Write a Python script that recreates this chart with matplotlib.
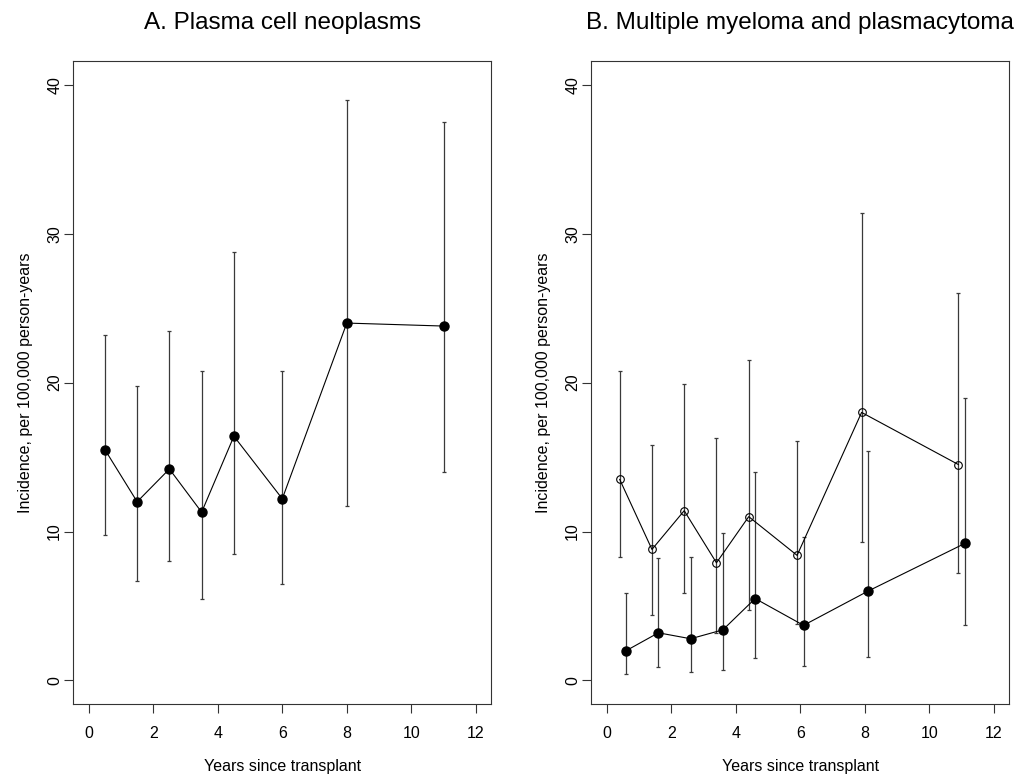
import numpy as np
import matplotlib
matplotlib.use("Agg")
import matplotlib.pyplot as plt

plt.rcParams['font.family'] = ['Liberation Sans', 'DejaVu Sans']

# panel A: plasma cell neoplasms
a_x = [0.5, 1.5, 2.5, 3.5, 4.5, 6, 8, 11]
a_y = [15.5, 12.0, 14.2, 11.3, 16.4, 12.2, 24.0, 23.8]
a_lo = [9.8, 6.7, 8.0, 5.5, 8.5, 6.5, 11.7, 14.0]
a_hi = [23.2, 19.8, 23.5, 20.8, 28.8, 20.8, 39.0, 37.5]

# panel B: open circles (offset left), filled circles (offset right)
b1_x = [0.4, 1.4, 2.4, 3.4, 4.4, 5.9, 7.9, 10.9]
b1_y = [13.5, 8.8, 11.4, 7.9, 11.0, 8.4, 18.0, 14.5]
b1_lo = [8.3, 4.4, 5.9, 3.2, 4.7, 3.8, 9.3, 7.2]
b1_hi = [20.8, 15.8, 19.9, 16.3, 21.5, 16.1, 31.4, 26.0]

b2_x = [0.6, 1.6, 2.6, 3.6, 4.6, 6.1, 8.1, 11.1]
b2_y = [2.0, 3.2, 2.8, 3.4, 5.5, 3.7, 6.0, 9.2]
b2_lo = [0.4, 0.9, 0.6, 0.7, 1.5, 1.0, 1.6, 3.7]
b2_hi = [5.9, 8.2, 8.3, 9.9, 14.0, 9.6, 15.4, 19.0]

xticks = [0, 2, 4, 6, 8, 10, 12]
yticks = [0, 10, 20, 30, 40]


def series(ax, x, y, lo, hi, filled):
    x = np.array(x); y = np.array(y)
    err = [y - np.array(lo), np.array(hi) - y]
    ax.errorbar(x, y, yerr=err, fmt='none', ecolor='#3a3a3a', elinewidth=0.9,
                capsize=1.5, capthick=0.9, zorder=2)
    if filled:
        ax.plot(x, y, '-o', color='black', lw=0.8, ms=6.5,
                mfc='black', mec='black', zorder=3)
    else:
        ax.plot(x, y, '-o', color='black', lw=0.8, ms=5.5,
                mfc='none', mec='black', mew=0.8, zorder=3)


def style(ax, title):
    ax.set_xlim(-0.48, 12.48)
    ax.set_ylim(-1.6, 41.6)
    ax.set_xticks(xticks)
    ax.set_yticks(yticks)
    ax.set_yticklabels([str(t) for t in yticks], rotation=90, va='center')
    ax.tick_params(axis='both', length=6.5, width=0.8, labelsize=11.5,
                   color='#333333')
    ax.tick_params(axis='x', pad=9)
    ax.tick_params(axis='y', pad=1.5)
    for s in ax.spines.values():
        s.set_linewidth(0.8)
        s.set_color('#333333')
    ax.set_xlabel('Years since transplant', fontsize=11.5, labelpad=13)
    ax.set_ylabel('Incidence, per 100,000 person-years', fontsize=11.5, labelpad=10)
    ax.set_title(title, fontsize=17.5, pad=23)


fig = plt.figure(figsize=(10.25, 7.77), dpi=100)
ax1 = fig.add_axes([0.0715, 0.0936, 0.4078, 0.8279])
ax2 = fig.add_axes([0.5769, 0.0936, 0.4078, 0.8279])

series(ax1, a_x, a_y, a_lo, a_hi, True)
style(ax1, 'A. Plasma cell neoplasms')

series(ax2, b1_x, b1_y, b1_lo, b1_hi, False)
series(ax2, b2_x, b2_y, b2_lo, b2_hi, True)
style(ax2, 'B. Multiple myeloma and plasmacytoma')

fig.savefig('out.png', dpi=100)
